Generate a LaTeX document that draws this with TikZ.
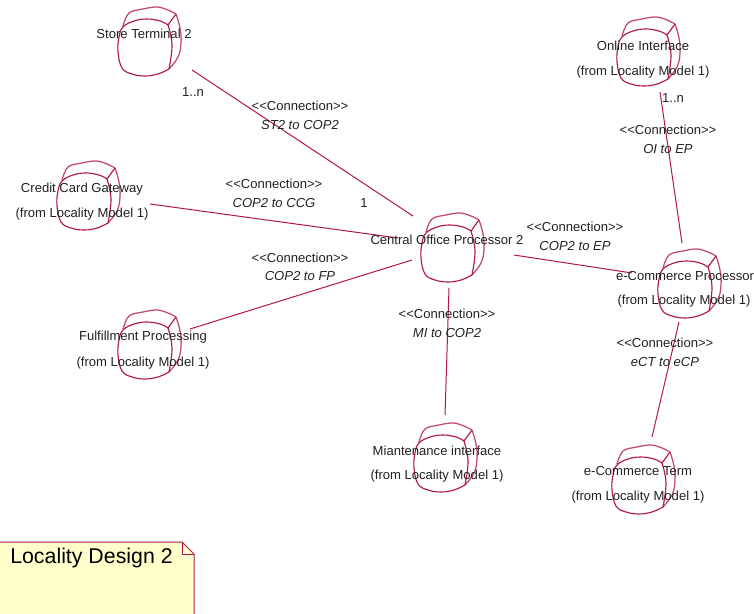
\documentclass[tikz,border=0pt]{standalone}
\usepackage{fontspec}
\setmainfont{Liberation Sans}
\definecolor{rose}{HTML}{B0174F}
\definecolor{roselight}{HTML}{C24A70}
\definecolor{notefill}{HTML}{FFFFCC}
\definecolor{txt}{HTML}{222222}
\tikzset{
  devicebox/.style={inner sep=0pt,minimum width=60pt,minimum height=60pt},
  lbl/.style={font=\fontsize{9.8}{12}\selectfont,text=txt,inner sep=0pt,yshift=-0.75pt},
  ital/.style={lbl,font=\fontsize{9.8}{12}\selectfont\itshape},
  conn/.style={draw=rose,line width=0.75pt},
  devline/.style={draw=rose,line width=0.85pt},
  devback/.style={draw=roselight,line width=0.95pt},
}
\newcommand{\devicedraw}[3]{%
  \node[devicebox] (#1) at (#2,#3) {};
  \begin{scope}[shift={(#2,#3)}]
    \draw[devback] plot[smooth,tension=.6] coordinates {(-25,-16) (-19,-29) (-5,-33) (9,-35) (20,-32) (28,-28)};
    \draw[devback] plot[smooth,tension=.7] coordinates {(28,-28) (32,-14) (33,1) (30,15) (21,27)};
    \draw[devline] (20,-17) -- (28,-28);
    \draw[devline] plot[smooth,tension=.7] coordinates {(20,-17) (24,3) (21,27)};
    \draw[devline] plot[smooth,tension=.65] coordinates {(21,27) (10,32) (-3,34) (-16,32) (-26,26) (-30,10) (-29,-5) (-25,-15) (-14,-21) (-1,-23) (12,-21) (20,-17)};
  \end{scope}}
\begin{document}
\begin{tikzpicture}[x=0.75pt,y=-0.75pt]
\useasboundingbox (0,0) rectangle (754,614);
\fill[white] (0,0) rectangle (754,614);

% note
\draw[draw=rose,fill=notefill,line width=0.75pt] (-2,542) -- (182,542) -- (194,554) -- (194,616) -- (-2,616) -- cycle;
\draw[rose,line width=0.6pt] (182,542) -- (182,554) -- (194,554);
\node[anchor=west,inner sep=0pt,font=\fontsize{16}{19}\selectfont,text=black] (notetext) at (10,557.5) {Locality Design 2};

% devices
\devicedraw{st}{148}{42}
\devicedraw{oi}{647}{52}
\devicedraw{ccg}{87}{196}
\devicedraw{cop}{451}{248}
\devicedraw{ep}{688}{284}
\devicedraw{fp}{148}{345}
\devicedraw{mi}{444}{458}
\devicedraw{ect}{642}{480}

% connectors
\draw[conn] ([shift={(44,28)}]st.center) -- ([shift={(-38,-32)}]cop.center);
\draw[conn] ([shift={(63,8)}]ccg.center) -- ([shift={(-53,-10)}]cop.center);
\draw[conn] ([shift={(42,-16)}]fp.center) -- ([shift={(-39,12)}]cop.center);
\draw[conn] ([shift={(-2,40)}]cop.center) -- ([shift={(1,-43)}]mi.center);
\draw[conn] ([shift={(63,7)}]cop.center) -- ([shift={(-56,-11)}]ep.center);
\draw[conn] ([shift={(13,40)}]oi.center) -- ([shift={(-6,-41)}]ep.center);
\draw[conn] ([shift={(-9,38)}]ep.center) -- ([shift={(10,-43)}]ect.center);

% labels
\node[lbl] (l1) at (144,33) {Store Terminal 2};
\node[lbl] (l2) at (193,91) {1..n};
\node[lbl] (l3) at (300,105) {<{}<Connection>{}>};
\node[ital] (l4) at (300,124) {ST2 to COP2};
\node[lbl] (l5) at (364,202) {1};
\node[lbl] (l6) at (643,45) {Online Interface};
\node[lbl] (l7) at (643,71) {(from Locality Model 1)};
\node[lbl] (l8) at (673,97) {1..n};
\node[lbl] (l9) at (668,129) {<{}<Connection>{}>};
\node[ital] (l10) at (668,148) {OI to EP};
\node[lbl] (l11) at (82,188) {Credit Card Gateway};
\node[lbl] (l12) at (82,213) {(from Locality Model 1)};
\node[lbl] (l13) at (274,183) {<{}<Connection>{}>};
\node[ital] (l14) at (274,202) {COP2 to CCG};
\node[lbl] (l15) at (447,239) {Central Office Processor 2};
\node[lbl] (l16) at (575,226) {<{}<Connection>{}>};
\node[ital] (l17) at (575,245) {COP2 to EP};
\node[lbl] (l18) at (685,275) {e-Commerce Processor};
\node[lbl] (l19) at (684,300) {(from Locality Model 1)};
\node[lbl] (l20) at (300,257) {<{}<Connection>{}>};
\node[ital] (l21) at (300,275) {COP2 to FP};
\node[lbl] (l22) at (143,336) {Fulfillment Processing};
\node[lbl] (l23) at (143,362) {(from Locality Model 1)};
\node[lbl] (l24) at (447,313) {<{}<Connection>{}>};
\node[ital] (l25) at (447,332) {MI to COP2};
\node[lbl] (l26) at (665,342) {<{}<Connection>{}>};
\node[ital] (l27) at (665,361) {eCT to eCP};
\node[lbl] (l28) at (437,450) {Miantenance interface};
\node[lbl] (l29) at (437,475) {(from Locality Model 1)};
\node[lbl] (l30) at (638,470) {e-Commerce Term};
\node[lbl] (l31) at (638,496) {(from Locality Model 1)};
\end{tikzpicture}
\end{document}
